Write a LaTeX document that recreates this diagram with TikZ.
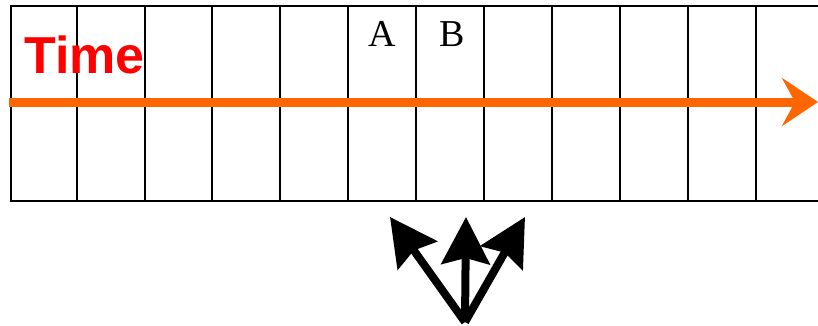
\documentclass[tikz,border=0pt]{standalone}
\usepackage{fontspec}
\setmainfont{Liberation Serif}
\newfontfamily\labelsans{Liberation Sans}
\usetikzlibrary{arrows.meta}
\definecolor{timeorange}{HTML}{FF6600}
\definecolor{timered}{HTML}{FF0000}
\begin{document}
\begin{tikzpicture}[x=1pt,y=-1pt,
  gridline/.style={line width=2pt},
  timeline/.style={line width=9pt, timeorange,
    -{Stealth[length=36pt,width=48pt,inset=13pt]}},
  branch/.style={line width=8pt, black,
    -{Stealth[length=47pt,width=48pt,inset=6pt]}},
  cellmark/.style={anchor=base, inner sep=0pt, font=\fontsize{38}{38}\selectfont}]
\useasboundingbox (0,0) rectangle (818,325);
% grid of time slots
\foreach \x in {11,77,145,212,280,348,416,484,552,620,688,756}
  \draw[gridline] (\x,6) -- (\x,201);
\draw[gridline] (10,6) -- (818,6);
\draw[gridline] (10,201) -- (818,201);
% slot labels
\node[cellmark] (a) at (382,46) {A};
\node[cellmark] (b) at (452,46) {B};
% time axis
\coordinate (tstart) at (9,102);
\coordinate (tend) at (818,102);
\draw[timeline] (tstart) -- (tend);
\node[anchor=base west, inner sep=0pt, text=timered,
  font=\labelsans\bfseries\fontsize{52}{52}\selectfont] (time) at (24,73) {Time};
% branching arrows
\coordinate (root) at (465,322);
\coordinate (left) at (390,217);
\coordinate (mid) at (466,217);
\coordinate (right) at (525,217);
\draw[branch] (root) -- (left);
\draw[branch] (root) -- (mid);
\draw[branch] (root) -- (right);
\end{tikzpicture}
\end{document}
